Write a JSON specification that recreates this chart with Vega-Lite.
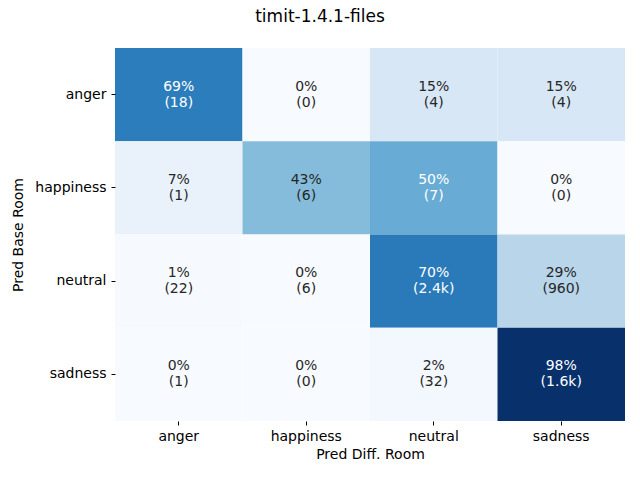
{
  "$schema": "https://vega.github.io/schema/vega-lite/v6.json",
  "width": 510,
  "height": 373,
  "autosize": {"type": "none"},
  "padding": {"left": 115, "top": 48, "right": 15, "bottom": 59},
  "background": "white",
  "title": {"text": "timit-1.4.1-files", "anchor": "middle", "dx": -50, "offset": 22, "font": "DejaVu Sans", "fontSize": 17, "fontWeight": "normal", "color": "#000000"},
  "config": {"view": {"stroke": null}, "font": "DejaVu Sans"},
  "data": {"values": [
    {"base": "anger", "diff": "anger", "pct": 69.2, "label": ["69%", "(18)"]},
    {"base": "anger", "diff": "happiness", "pct": 0, "label": ["0%", "(0)"]},
    {"base": "anger", "diff": "neutral", "pct": 15.4, "label": ["15%", "(4)"]},
    {"base": "anger", "diff": "sadness", "pct": 15.4, "label": ["15%", "(4)"]},
    {"base": "happiness", "diff": "anger", "pct": 7.1, "label": ["7%", "(1)"]},
    {"base": "happiness", "diff": "happiness", "pct": 42.9, "label": ["43%", "(6)"]},
    {"base": "happiness", "diff": "neutral", "pct": 50, "label": ["50%", "(7)"]},
    {"base": "happiness", "diff": "sadness", "pct": 0, "label": ["0%", "(0)"]},
    {"base": "neutral", "diff": "anger", "pct": 0.7, "label": ["1%", "(22)"]},
    {"base": "neutral", "diff": "happiness", "pct": 0.2, "label": ["0%", "(6)"]},
    {"base": "neutral", "diff": "neutral", "pct": 70.0, "label": ["70%", "(2.4k)"]},
    {"base": "neutral", "diff": "sadness", "pct": 29.0, "label": ["29%", "(960)"]},
    {"base": "sadness", "diff": "anger", "pct": 0.1, "label": ["0%", "(1)"]},
    {"base": "sadness", "diff": "happiness", "pct": 0, "label": ["0%", "(0)"]},
    {"base": "sadness", "diff": "neutral", "pct": 2.0, "label": ["2%", "(32)"]},
    {"base": "sadness", "diff": "sadness", "pct": 98.0, "label": ["98%", "(1.6k)"]}
  ]},
  "encoding": {
    "x": {"field": "diff", "type": "nominal", "sort": ["anger", "happiness", "neutral", "sadness"],
      "scale": {"paddingInner": 0, "paddingOuter": 0},
      "axis": {"title": "Pred Diff. Room", "labelAngle": 0, "domain": false, "tickSize": 4, "tickColor": "#000", "tickWidth": 1, "labelPadding": 4, "labelFontSize": 14, "labelColor": "#000", "titleFontSize": 14, "titleFontWeight": "normal", "titleColor": "#000", "titlePadding": 4}},
    "y": {"field": "base", "type": "nominal", "sort": ["anger", "happiness", "neutral", "sadness"],
      "scale": {"paddingInner": 0, "paddingOuter": 0},
      "axis": {"title": "Pred Base Room", "domain": false, "tickSize": 4, "tickColor": "#000", "tickWidth": 1, "labelPadding": 5, "labelFontSize": 14, "labelColor": "#000", "titleFontSize": 14, "titleFontWeight": "normal", "titleColor": "#000", "titlePadding": 9}}
  },
  "layer": [
    {"mark": {"type": "rect"},
     "encoding": {"color": {"field": "pct", "type": "quantitative", "legend": null,
       "scale": {"domain": [0, 12.25, 24.5, 36.75, 49, 61.25, 73.5, 85.75, 98],
                 "range": ["#f7fbff", "#deebf7", "#c6dbef", "#9ecae1", "#6baed6", "#4292c6", "#2171b5", "#08519c", "#08306b"]}}}},
    {"mark": {"type": "text", "fontSize": 14, "lineHeight": 16, "baseline": "middle", "dy": -8},
     "encoding": {
       "text": {"field": "label"},
       "color": {"condition": {"test": "datum.pct >= 45", "value": "#ffffff"}, "value": "#262626"}
     }}
  ]
}
